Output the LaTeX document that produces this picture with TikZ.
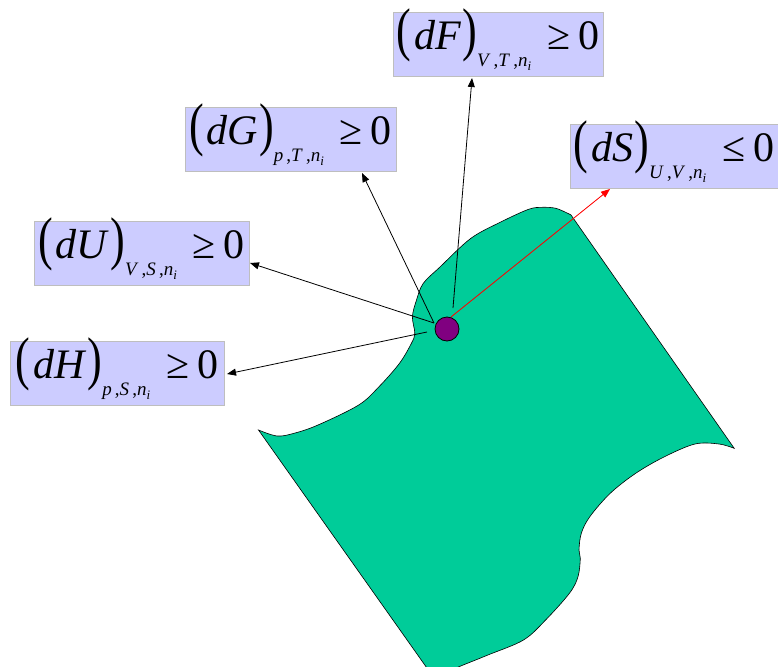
\documentclass[tikz,border=0pt]{standalone}
\usepackage{graphicx}
\usepackage{fontspec}
\setmainfont{Liberation Serif}
\usetikzlibrary{arrows.meta}
\definecolor{boxfill}{RGB}{204,204,255}
\definecolor{boxdraw}{RGB}{190,190,190}
\definecolor{sheet}{RGB}{0,204,153}
\definecolor{dotcol}{RGB}{128,0,128}
\newcommand{\parL}{\scalebox{1.05}[1.4]{(}}
\newcommand{\parR}{\scalebox{1.05}[1.4]{)}}
\newcommand{\subsc}[2]{\textit{#1}\,,\textit{#2}\,,\textit{n}\raisebox{-4pt}{\fontsize{13}{13}\selectfont\textit{i}}}
\newcommand{\eqlabel}[3]{\fontsize{42}{46}\selectfont\parL\hspace{3pt}\textit{d#1}\hspace{1pt}\parR\raisebox{-17pt}{\fontsize{19}{19}\selectfont #2}\hspace{16pt}#3\hspace{8pt}0}
\tikzset{
  eqbox/.style={rectangle, fill=boxfill, draw=boxdraw, line width=1pt, inner sep=0pt,
    text height=37pt, text depth=27pt, minimum height=64pt},
  conn/.style={line width=0.8pt, -{Triangle[length=9pt,width=7pt]}},
}
\begin{document}
\begin{tikzpicture}[x=1pt,y=-1pt]
\useasboundingbox (0,0) rectangle (778,666);
\begin{scope}
\clip (0,0) rectangle (778,666);
\filldraw[fill=sheet, draw=black, line width=0.6pt]
  plot[smooth,tension=0.55] coordinates {(258.5,430) (277,436) (294,433.3) (318,425) (358.7,405) (379,386.7) (399.5,363.3) (411.4,343.3) (414.8,333.3) (412.4,316.7) (416.5,300) (423.3,283.3) (440.3,266.7) (470.9,238.3) (501.4,221.7) (528.6,209.3) (542.2,207.3) (555.8,208.3) (567.7,213.3) (571,215)}
  -- plot[smooth,tension=0.55] coordinates {(734.2,448.3) (719,444) (695,444) (664.5,456.7) (635.7,473.3) (610.2,493.3) (589.8,516.7) (581.3,533.3) (579,550) (580.3,558.3) (578,576.7) (569.4,593.3) (545.6,620) (523.5,640) (487.9,655) (460.7,666) (445,673)}
  -- (434,678) -- cycle;
\end{scope}

\node[eqbox, minimum width=210pt] (F) at (498,45) {\eqlabel{F}{\subsc{V}{T}}{≥}};
\node[eqbox, minimum width=208pt] (S) at (674,156.5) {\eqlabel{S}{\subsc{U}{V}}{≤}};
\node[eqbox, minimum width=211pt] (G) at (290.5,139.5) {\eqlabel{G}{\subsc{p}{T}}{≥}};
\node[eqbox, minimum width=215pt] (U) at (141.5,253) {\eqlabel{U}{\subsc{V}{S}}{≥}};
\node[eqbox, minimum width=214pt] (H) at (117,373) {\eqlabel{H}{\subsc{p}{S}}{≥}};

\coordinate (sF) at (453,308);
\coordinate (sS) at (451,317);
\coordinate (sG) at (434,323);
\coordinate (sH) at (427,332);
\coordinate (tF) at (472,78);
\coordinate (tS) at (610,189);
\coordinate (tG) at (362,173);
\coordinate (tU) at (250,263);
\coordinate (tH) at (227,374);

\draw[conn] (sF) -- (tF);
\draw[conn, draw=red, fill=red] (sS) -- (tS);
\draw[conn] (sG) -- (tG);
\draw[conn] (sG) -- (tU);
\draw[conn] (sH) -- (tH);

\node[circle, fill=dotcol, draw=black, line width=0.8pt, minimum size=24pt, inner sep=0pt] (P) at (447,329) {};
\end{tikzpicture}
\end{document}
